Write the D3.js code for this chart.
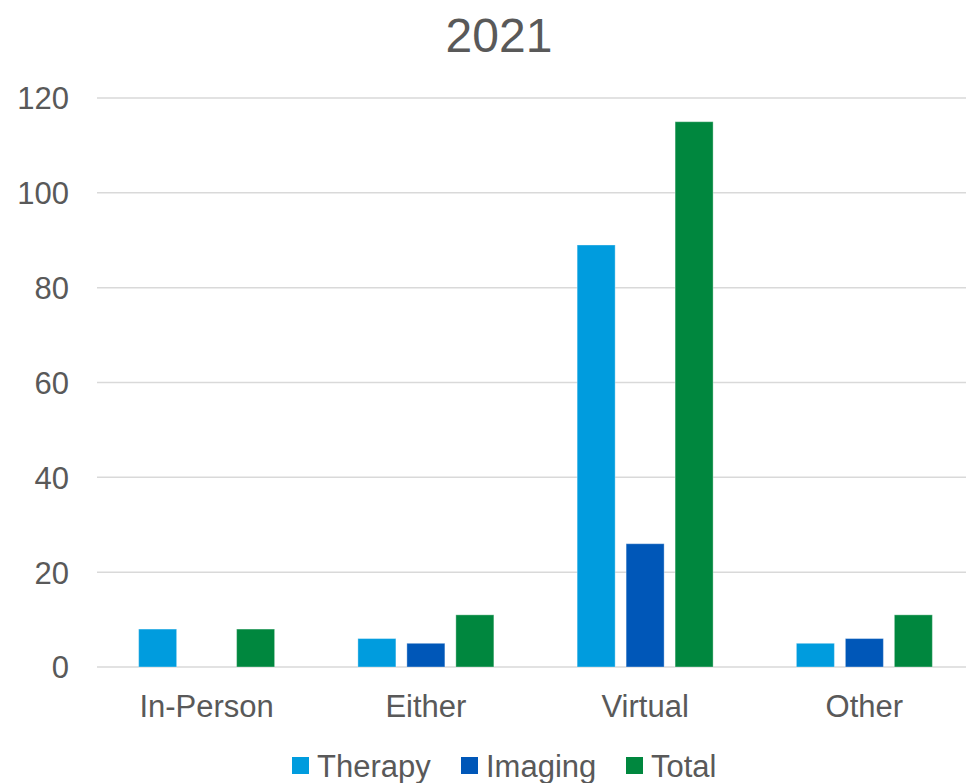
<!DOCTYPE html>
<html><head><meta charset="utf-8">
<script src="https://cdn.jsdelivr.net/npm/d3@7"></script>
<style>body{margin:0;background:#fff}svg{display:block}text{font-family:"Liberation Sans",Arial,sans-serif;fill:#595959}</style>
</head><body>
<script>
const categories = ["In-Person", "Either", "Virtual", "Other"];
const seriesNames = ["Therapy", "Imaging", "Total"];
const therapy = [8, 6, 89, 5];
const imaging = [0, 5, 26, 6];
const total = [8, 11, 115, 11];
const yTicks = [0, 20, 40, 60, 80, 100, 120];
const colors = ["#009CDE", "#0057B8", "#00873E"];
const seriesValues = [therapy, imaging, total];

(function () {
const W = 966, H = 783;
const svg = d3.select("body").append("svg").attr("width", W).attr("height", H);
const mLeft = 97, mRight = 974, mTop = 98, mBottom = 667;

const x0 = d3.scaleBand().domain(categories).range([mLeft, mRight]).padding(0);
const x1 = d3.scaleBand().domain(seriesNames).range([0, x0.bandwidth()]).paddingInner(0.224).paddingOuter(0.85);
const y = d3.scaleLinear().domain([0, 120]).range([mBottom, mTop]);

svg.append("text").attr("x", 499).attr("y", 52).attr("text-anchor", "middle").style("font-size", "48px").text("2021");

svg.append("g").selectAll("line").data(yTicks).join("line")
  .attr("x1", mLeft).attr("x2", 966).attr("y1", d => y(d)).attr("y2", d => y(d))
  .attr("stroke", "#D9D9D9").attr("stroke-width", 1.5);

const yAxis = d3.axisLeft(y).tickValues(yTicks).tickSize(0).tickPadding(0);
const ga = svg.append("g").attr("transform", "translate(69,0)").call(yAxis);
ga.select(".domain").remove();
ga.selectAll("text").style("font-size", "31px").attr("fill", "#595959").attr("dy", "0.35em");

const data = [];
categories.forEach((c, i) => seriesNames.forEach((s, j) => data.push({c, s, v: seriesValues[j][i], j})));
svg.append("g").selectAll("rect").data(data.filter(d => d.v > 0)).join("rect")
  .attr("x", d => x0(d.c) + x1(d.s))
  .attr("width", x1.bandwidth())
  .attr("y", d => y(d.v))
  .attr("height", d => y(0) - y(d.v))
  .attr("fill", d => colors[d.j])
  .attr("stroke", "rgba(255,255,255,0.35)").attr("stroke-width", 1);

const xAxis = d3.axisBottom(x0).tickSize(0).tickPadding(0);
const gx = svg.append("g").attr("transform", "translate(0,717)").call(xAxis);
gx.select(".domain").remove();
gx.selectAll("text").style("font-size", "31px").attr("fill", "#595959").attr("dy", "0");

const legX = [292, 461, 626];
const lg = svg.append("g");
seriesNames.forEach((s, j) => {
  lg.append("rect").attr("x", legX[j]).attr("y", 757).attr("width", 17).attr("height", 17).attr("fill", colors[j]);
  lg.append("text").attr("x", legX[j] + 25).attr("y", 777).style("font-size", "31px").text(s);
});
})();
</script>
</body></html>
